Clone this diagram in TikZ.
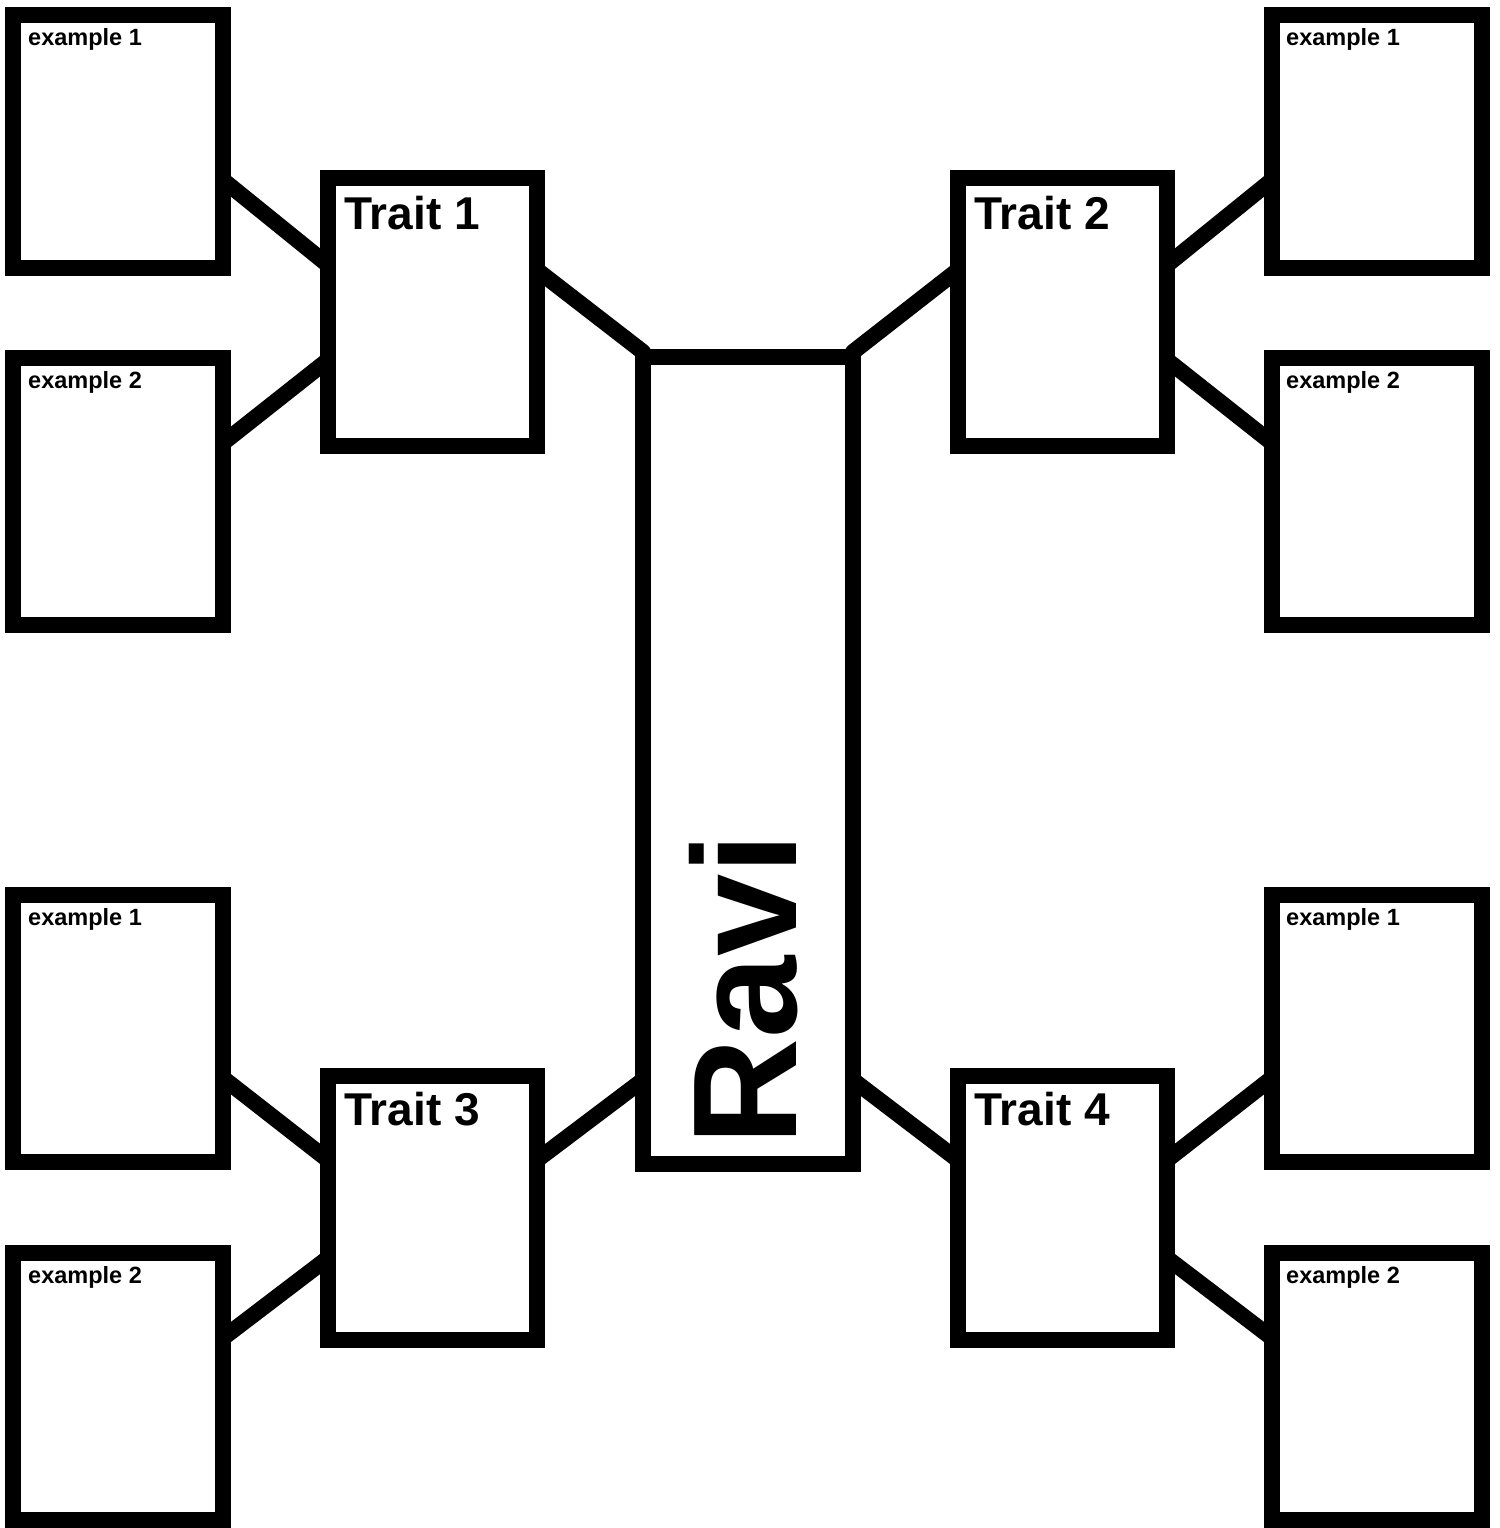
\documentclass[tikz,border=0pt]{standalone}
\usepackage{fontspec}
\setmainfont{Liberation Sans}
\usetikzlibrary{calc}
\begin{document}
\begin{tikzpicture}[x=1pt,y=-1pt,
  box/.style={draw,line width=16pt,rectangle,inner sep=0pt,outer sep=0pt},
  conn/.style={line width=16pt,line cap=round},
  exlab/.style={font=\fontsize{23.5}{28}\selectfont\bfseries,anchor=base west,inner sep=0pt},
  trlab/.style={font=\fontsize{46}{54}\selectfont\bfseries,anchor=base west,inner sep=0pt}]
\useasboundingbox (0,0) rectangle (1499,1528);
% example boxes, left
\node[box,minimum width=210pt,minimum height=253pt] (e1) at (118,141.5) {};
\node[box,minimum width=210pt,minimum height=267pt] (e2) at (118,491.5) {};
\node[box,minimum width=210pt,minimum height=267pt] (e3) at (118,1028.5) {};
\node[box,minimum width=210pt,minimum height=267pt] (e4) at (118,1386.5) {};
% example boxes, right
\node[box,minimum width=210pt,minimum height=253pt] (f1) at (1377,141.5) {};
\node[box,minimum width=210pt,minimum height=267pt] (f2) at (1377,491.5) {};
\node[box,minimum width=210pt,minimum height=267pt] (f3) at (1377,1028.5) {};
\node[box,minimum width=210pt,minimum height=267pt] (f4) at (1377,1386.5) {};
% trait boxes
\node[box,minimum width=209pt,minimum height=268pt] (t1) at (432.5,312) {};
\node[box,minimum width=209pt,minimum height=268pt] (t2) at (1062.5,312) {};
\node[box,minimum width=209pt,minimum height=264pt] (t3) at (432.5,1208) {};
\node[box,minimum width=209pt,minimum height=264pt] (t4) at (1062.5,1208) {};
% centre box
\node[box,minimum width=210pt,minimum height=807pt] (r) at (748,760.5) {};
% labels
\node[exlab] (le1) at (28,46) {example 1};
\node[exlab] (le2) at (28,388) {example 2};
\node[exlab] (le3) at (28,925) {example 1};
\node[exlab] (le4) at (28,1283) {example 2};
\node[exlab] (lf1) at (1286,46) {example 1};
\node[exlab] (lf2) at (1286,388) {example 2};
\node[exlab] (lf3) at (1286,925) {example 1};
\node[exlab] (lf4) at (1286,1283) {example 2};
\node[trlab] (lt1) at (344,229) {Trait 1};
\node[trlab] (lt2) at (974,229) {Trait 2};
\node[trlab] (lt3) at (344,1125) {Trait 3};
\node[trlab] (lt4) at (974,1125) {Trait 4};
\node[font=\fontsize{148}{150}\selectfont\bfseries,rotate=90,anchor=base west,inner sep=0pt] (lr) at (796,1146) {Ravi};
% connectors left top
\draw[conn] ($(e1.east)+(0,38.5)$) -- ($(t1.west)+(0,-47)$);
\draw[conn] ($(e2.east)+(0,-48.5)$) -- ($(t1.west)+(0,48)$);
% right top
\draw[conn] ($(t2.east)+(0,-47)$) -- ($(f1.west)+(0,38.5)$);
\draw[conn] ($(t2.east)+(0,48)$) -- ($(f2.west)+(0,-48.5)$);
% left bottom
\draw[conn] ($(e3.east)+(0,49.5)$) -- ($(t3.west)+(0,-48)$);
\draw[conn] ($(e4.east)+(0,-48.5)$) -- ($(t3.west)+(0,50)$);
% right bottom
\draw[conn] ($(t4.east)+(0,-48)$) -- ($(f3.west)+(0,49.5)$);
\draw[conn] ($(t4.east)+(0,50)$) -- ($(f4.west)+(0,-48.5)$);
% traits to centre
\draw[conn] ($(t1.east)+(0,-42)$) -- ($(r.north west)+(0,-5)$);
\draw[conn] ($(t2.west)+(0,-42)$) -- ($(r.north east)+(0,-5)$);
\draw[conn] ($(t3.east)+(0,-48)$) -- ($(r.south west)+(0,-84)$);
\draw[conn] ($(t4.west)+(0,-48)$) -- ($(r.south east)+(0,-84)$);
\end{tikzpicture}
\end{document}
